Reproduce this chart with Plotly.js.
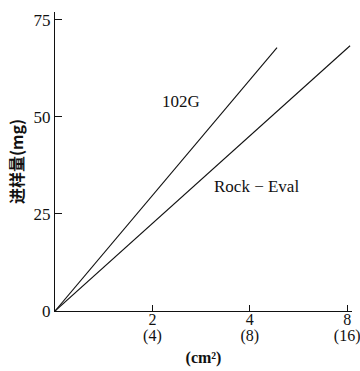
<!DOCTYPE html>
<html>
<head>
<meta charset="utf-8">
<script src="https://cdn.plot.ly/plotly-3.0.1.min.js"></script>
<style>html,body{margin:0;padding:0;background:#fff}#chart{width:360px;height:371px}</style>
</head>
<body>
<div id="chart"></div>
<script>
// x positions are evenly spaced tick slots (0, 2/(4), 4/(8), 8/(16))
const tickPos = [1, 2, 3];
const tickLabels = ["2", "4", "8"];
const tickLabels2 = ["(4)", "(8)", "(16)"];
const yTicks = [0, 25, 50, 75];

const x102G = [0, 2.28];
const y102G = [0, 67.8];
const xRockEval = [0, 3.03];
const yRockEval = [0, 68.3];

const lineStyle = {color: '#111', width: 1.1};
const traces = [
  {x: x102G, y: y102G, mode: 'lines', line: lineStyle, name: '102G', hoverinfo: 'skip'},
  {x: xRockEval, y: yRockEval, mode: 'lines', line: lineStyle, name: 'Rock-Eval', hoverinfo: 'skip'},
  {x: [], y: [], xaxis: 'x2', mode: 'lines', hoverinfo: 'skip', showlegend: false}
];

const serif = 'Liberation Serif, Times New Roman, serif';
const layout = {
  width: 360, height: 371,
  margin: {l: 55, r: 8, t: 12, b: 60},
  paper_bgcolor: '#fff', plot_bgcolor: '#fff',
  showlegend: false,
  font: {family: serif, color: '#111', size: 16},
  xaxis: {
    range: [0, 3.05], showgrid: false, zeroline: false,
    showline: true, linecolor: '#111', linewidth: 1.2,
    ticks: 'inside', ticklen: 6, tickwidth: 1, tickcolor: '#111',
    tickvals: tickPos, ticktext: tickLabels, ticklabelstandoff: -6,
    ticklabeloverflow: 'allow',
    tickfont: {family: serif, size: 16, color: '#111'},
    title: {text: '(cm²)', font: {family: serif, size: 16, color: '#111', weight: 'bold'}, standoff: 24}
  },
  xaxis2: {
    overlaying: 'x', anchor: 'y', side: 'bottom', matches: 'x',
    range: [0, 3.05], showgrid: false, zeroline: false, showline: false,
    ticks: '', tickvals: tickPos, ticktext: tickLabels2, ticklabelstandoff: 13,
    ticklabeloverflow: 'allow',
    tickfont: {family: serif, size: 16, color: '#111'}
  },
  yaxis: {
    range: [0, 77], showgrid: false, zeroline: false,
    showline: true, linecolor: '#111', linewidth: 1.2,
    ticks: 'inside', ticklen: 7, tickwidth: 1, tickcolor: '#111',
    tickvals: yTicks,
    tickfont: {family: serif, size: 17, color: '#111'},
    title: {text: '进样量(mg)', font: {family: 'Noto Sans CJK SC, sans-serif', size: 16, color: '#111', weight: 'bold'}, standoff: 5}
  },
  annotations: [
    {x: 1.295, y: 54, xref: 'x', yref: 'y', text: '102G', showarrow: false,
     font: {family: serif, size: 17, color: '#111'}},
    {x: 2.07, y: 32.1, xref: 'x', yref: 'y', text: 'Rock − Eval', showarrow: false,
     font: {family: serif, size: 17, color: '#111'}}
  ]
};

Plotly.newPlot('chart', traces, layout, {displayModeBar: false, staticPlot: true});
</script>
</body>
</html>
